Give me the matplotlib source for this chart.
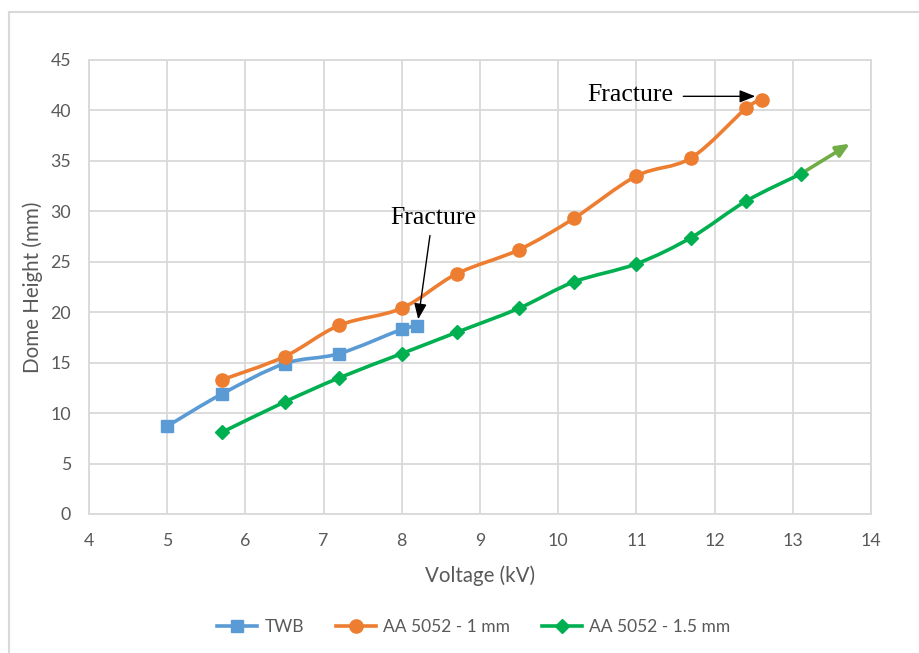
import numpy as np
import matplotlib
matplotlib.use("Agg")
import matplotlib.pyplot as plt
from matplotlib.path import Path
from matplotlib.patches import PathPatch
from matplotlib.lines import Line2D

# Forming data: voltage (kV) vs dome height (mm)
twb_v = [5.0, 5.7, 6.5, 7.2, 8.0, 8.2]
twb_h = [8.7, 11.9, 14.9, 15.9, 18.3, 18.6]

aa1_v = [5.7, 6.5, 7.2, 8.0, 8.7, 9.5, 10.2, 11.0, 11.7, 12.4, 12.6]
aa1_h = [13.3, 15.6, 18.7, 20.4, 23.8, 26.2, 29.3, 33.5, 35.3, 40.2, 41.0]

aa15_v = [5.7, 6.5, 7.2, 8.0, 8.7, 9.5, 10.2, 11.0, 11.7, 12.4, 13.1]
aa15_h = [8.1, 11.1, 13.5, 15.9, 18.0, 20.4, 23.0, 24.8, 27.4, 31.0, 33.7]

x_ticks = [4, 5, 6, 7, 8, 9, 10, 11, 12, 13, 14]
y_ticks = [0, 5, 10, 15, 20, 25, 30, 35, 40, 45]

series_names = ["TWB", "AA 5052 - 1 mm", "AA 5052 - 1.5 mm"]
colors = ["#5B9BD5", "#ED7D31", "#00B050"]
markers = ["s", "o", "D"]
marker_sizes = [9, 9.5, 7]

FONT = ["Lato", "DejaVu Sans"]
SERIF = ["Liberation Serif", "DejaVu Serif"]
TXT = "#595959"

fig = plt.figure(figsize=(9.19, 6.53), dpi=100)

# Chart-area frame (left and top edges visible)
fx = 8.5 / 919
fy = 1 - 12 / 653
fig.add_artist(Line2D([fx, fx], [fy, 0], transform=fig.transFigure, color="#D9D9D9", lw=1.5))
fig.add_artist(Line2D([fx, 1], [fy, fy], transform=fig.transFigure, color="#D9D9D9", lw=1.5))

ax = fig.add_axes([89 / 919, 1 - 514 / 653, (871 - 89) / 919, (514 - 60) / 653])
ax.set_xlim(4, 14)
ax.set_ylim(0, 45)
ax.set_xticks(x_ticks)
ax.set_yticks(y_ticks)
ax.grid(True, color="#D9D9D9", lw=1.3)
ax.set_axisbelow(True)
for s in ax.spines.values():
    s.set_color("#D9D9D9")
    s.set_linewidth(1.3)
ax.tick_params(length=0, labelsize=12.8, labelcolor=TXT)
ax.tick_params(axis="x", pad=13.5)
ax.tick_params(axis="y", pad=13)
for lab in ax.get_xticklabels() + ax.get_yticklabels():
    lab.set_fontfamily(FONT)
ax.set_xlabel("Voltage (kV)", fontsize=14.8, color=TXT, family=FONT, labelpad=12)
ax.set_ylabel("Dome Height (mm)", fontsize=14.8, color=TXT, family=FONT, labelpad=5)


def smooth_path(xs, ys, t=1 / 6):
    """Cubic Bezier path through the points (Catmull-Rom style tangents)."""
    p = np.column_stack([xs, ys]).astype(float)
    verts = [p[0]]
    codes = [Path.MOVETO]
    n = len(p)
    for i in range(n - 1):
        p0 = p[i - 1] if i > 0 else p[i]
        p1, p2 = p[i], p[i + 1]
        p3 = p[i + 2] if i + 2 < n else p[i + 1]
        c1 = p1 + (p2 - p0) * t
        c2 = p2 - (p3 - p1) * t
        verts += [c1, c2, p2]
        codes += [Path.CURVE4] * 3
    return Path(verts, codes)


data = [(twb_v, twb_h), (aa1_v, aa1_h), (aa15_v, aa15_h)]
handles = []
for (xs, ys), c, m, ms, name in zip(data, colors, markers, marker_sizes, series_names):
    ax.add_patch(PathPatch(smooth_path(xs, ys), facecolor="none", edgecolor=c, lw=2.6,
                           capstyle="round", joinstyle="round", zorder=3))
    ax.plot(xs, ys, ls="none", marker=m, ms=ms, color=c, mec=c, zorder=4)
    handles.append(Line2D([], [], color=c, lw=2.6, marker=m, ms=ms, mec=c, label=name))

# Trend arrow extending the 1.5 mm series
ax.annotate("", xy=(13.73, 36.7), xytext=(aa15_v[-1], aa15_h[-1]),
            arrowprops=dict(arrowstyle="-|>,head_length=0.8,head_width=0.35",
                            color="#70AD47", lw=2.6, shrinkA=0, shrinkB=0), zorder=3)

# Fracture callouts
arrow_kw = dict(arrowstyle="-|>,head_length=0.95,head_width=0.38",
                color="black", lw=1, shrinkA=0, shrinkB=0)
ax.text(8.40, 29.3, "Fracture", ha="center", va="center", fontsize=18.5,
        family=SERIF, color="black")
ax.annotate("", xy=(8.21, 19.3), xytext=(8.36, 27.6), arrowprops=arrow_kw)

ax.text(10.92, 41.5, "Fracture", ha="center", va="center", fontsize=18.5,
        family=SERIF, color="black")
ax.annotate("", xy=(12.52, 41.4), xytext=(11.60, 41.4), arrowprops=arrow_kw)

leg = fig.legend(handles=handles, loc="center", bbox_to_anchor=(474 / 919, 1 - 627 / 653),
                 ncol=3, frameon=False, handlelength=2.3, columnspacing=1.8,
                 handletextpad=0.45, prop={"family": FONT, "size": 12.5})
for t in leg.get_texts():
    t.set_color(TXT)

fig.savefig("out.png", dpi=100, facecolor="white")
